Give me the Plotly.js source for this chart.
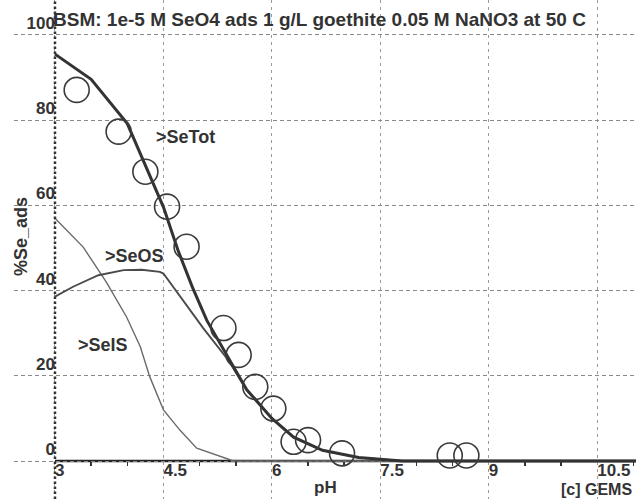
<!DOCTYPE html>
<html>
<head>
<meta charset="utf-8">
<script src="https://cdn.plot.ly/plotly-3.0.1.min.js"></script>
<style>html,body{margin:0;padding:0;background:#fff;}#chart{width:636px;height:499px;}</style>
</head>
<body>
<div id="chart"></div>
<script>
// ---- data ----
const titleText = "BSM: 1e-5 M SeO4 ads 1 g/L goethite 0.05 M NaNO3 at 50 C";
const xTickVals = [3, 4.5, 6, 7.5, 9, 10.5];
const xTickText = ["3", "4.5", "6", "7.5", "9", "10.5"];
const yTickVals = [0, 20, 40, 60, 80, 100];
const yTickText = ["0", "20", "40", "60", "80", "100"];

// >SeTot model curve
const pHTot = [3.0, 3.5, 4.0, 4.25, 4.5, 4.7, 4.9, 5.1, 5.4, 5.65, 6.0, 6.3, 6.7, 7.2, 7.8, 11.1];
const seTot = [95.5, 89.6, 79.2, 69.3, 59.6, 49.5, 40.8, 33.0, 24.0, 16.8, 10.0, 5.6, 2.5, 0.8, 0, 0];

// >SeOS model curve
const pHOS = [3.0, 3.25, 3.6, 3.95, 4.2, 4.45, 4.5, 4.77, 5.05, 5.4, 5.65, 6.0, 6.3, 6.7, 7.2, 7.8, 11.1];
const seOS = [38.6, 40.9, 43.6, 44.8, 44.9, 44.4, 44.0, 37.7, 31.2, 23.6, 16.6, 10.0, 5.6, 2.5, 0.8, 0, 0];

// >SeIS model curve
const pHIS = [3.0, 3.39, 3.71, 3.99, 4.18, 4.31, 4.5, 4.73, 4.96, 5.19, 5.47, 11.1];
const seIS = [57.0, 50.2, 42.0, 33.8, 26.8, 19.8, 12.0, 7.2, 3.0, 1.7, 0, 0];

// experimental points (open circles)
const pHExp = [3.30, 3.88, 4.25, 4.55, 4.82, 5.33, 5.54, 5.77, 6.02, 6.30, 6.50, 6.97, 8.46, 8.69];
const seExp = [87.1, 77.3, 67.9, 59.7, 50.3, 31.2, 24.9, 17.4, 12.3, 4.5, 4.9, 1.8, 1.3, 1.3];

// curve labels
const labelText = [">SeTot", ">SeOS", ">SeIS"];
const labelX = [4.37, 3.67, 3.29];
const labelY = [76.0, 48.0, 27.2];

// ---- chart ----
const xRange = [2.433, 11.036];
const yRange = [-8.92, 108.2];
const FONT = "'Liberation Sans', Arial, sans-serif";
const TXT = "#333";
const boldFont = (s) => ({family: FONT, size: s, color: TXT, weight: "bold"});

const traces = [
  {x: pHIS, y: seIS, mode: "lines", line: {color: "#6a6a6a", width: 1.4}, hoverinfo: "skip"},
  {x: pHOS, y: seOS, mode: "lines", line: {color: "#4a4a4a", width: 1.9}, hoverinfo: "skip"},
  {x: pHTot, y: seTot, mode: "lines", line: {color: "#333", width: 3}, hoverinfo: "skip"},
  {x: pHExp, y: seExp, mode: "markers",
   marker: {symbol: "circle-open", size: 25, color: "#3a3a3a", line: {width: 1.6}}, hoverinfo: "skip"}
];

const annotations = labelText.map((t, i) => ({
  text: t, x: labelX[i], y: labelY[i], xref: "x", yref: "y",
  xanchor: "left", yanchor: "middle", showarrow: false,
  font: boldFont(18)
}));
annotations.push(
  {text: "%Se_ads", textangle: -90, xref: "paper", yref: "paper", x: 0, y: 1 - 237 / 499,
   xanchor: "center", yanchor: "middle", xshift: 7, showarrow: false,
   font: boldFont(18)},
  {text: "pH", xref: "paper", yref: "paper", x: (325 - 14) / 622, y: 0, yshift: 1,
   xanchor: "center", yanchor: "bottom", showarrow: false, borderpad: 0,
   font: boldFont(17)},
  {text: "[c] GEMS", xref: "paper", yref: "paper", x: 1, y: 0, xshift: -3, yshift: 0,
   xanchor: "right", yanchor: "bottom", showarrow: false, borderpad: 0,
   font: boldFont(16)}
);

const xPos = (0 - yRange[0]) / (yRange[1] - yRange[0]);
const yPos = (3 - xRange[0]) / (xRange[1] - xRange[0]);

const layout = {
  width: 636, height: 499,
  margin: {l: 14, r: 0, t: 0, b: 0, pad: 0},
  paper_bgcolor: "#fff", plot_bgcolor: "#fff",
  showlegend: false,
  title: {text: titleText, xref: "container", yref: "container", x: 53 / 636, xanchor: "left",
          y: 1 - 19 / 499, yanchor: "middle", font: boldFont(19)},
  xaxis: {
    range: xRange, anchor: "free", position: xPos,
    tickmode: "array", tickvals: xTickVals, ticktext: xTickText,
    ticklabelposition: "outside right", ticks: "", ticklabelstandoff: -3,
    showgrid: true, gridcolor: "#9a9a9a", gridwidth: 1, griddash: "3px,4px",
    zeroline: false, showline: false,
    tickfont: boldFont(17),
    minor: {tickmode: "array", tickvals: [3.5, 4, 5, 5.5, 6.5, 7, 8, 8.5, 9.5, 10, 11],
            ticks: "outside", ticklen: 4, tickwidth: 1.5, tickcolor: "#333", showgrid: false}
  },
  yaxis: {
    range: yRange, anchor: "free", position: yPos,
    tickmode: "array", tickvals: yTickVals, ticktext: yTickText,
    ticklabelposition: "outside top", ticks: "",
    showgrid: true, gridcolor: "#8a8a8a", gridwidth: 1, griddash: "4px,3px",
    zeroline: false, showline: false,
    tickfont: boldFont(17)
  },
  shapes: [
    {type: "line", xref: "x", yref: "paper", x0: 3, x1: 3, y0: 0, y1: 1,
     line: {color: "#333", width: 2.5, dash: "2.5px,2.5px"}, layer: "above"},
    {type: "line", xref: "x", yref: "y", x0: 3, x1: xRange[1], y0: 0, y1: 0,
     line: {color: "#222", width: 2.6}, layer: "below"}
  ],
  annotations: annotations
};

Plotly.newPlot("chart", traces, layout, {displayModeBar: false, staticPlot: true});
</script>
</body>
</html>
